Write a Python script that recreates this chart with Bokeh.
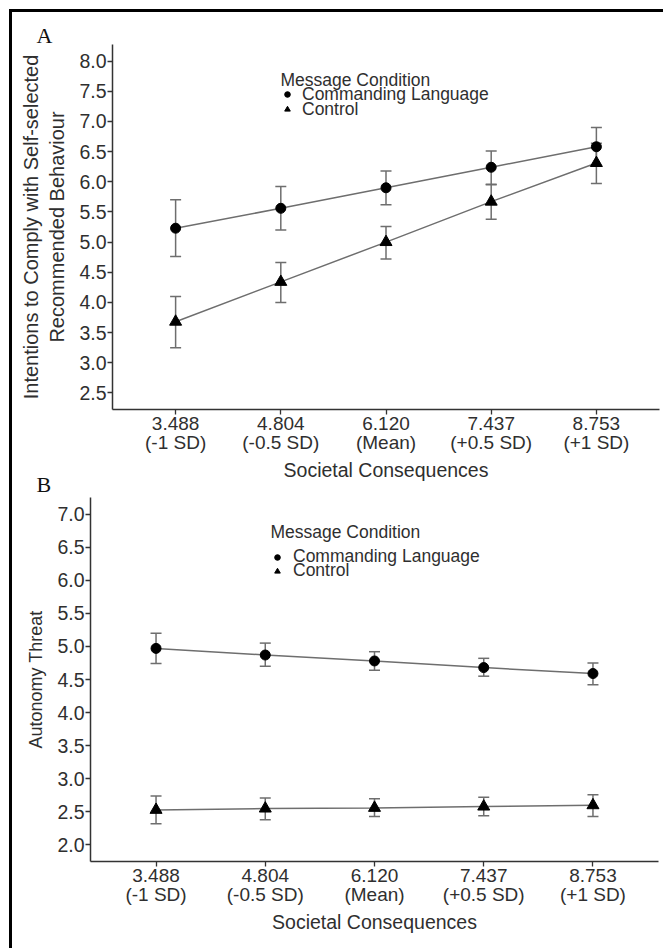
from bokeh.plotting import figure
from bokeh.models import (Range1d, FixedTicker, PrintfTickFormatter, Whisker, TeeHead,
                          ColumnDataSource, Legend, LegendItem, Label, Spacer, Title,
                          LinearAxis)
from bokeh.layouts import column, row
from bokeh.embed import file_html
from bokeh.resources import INLINE

# ---------------- data ----------------
sc_values = [3.488, 4.804, 6.120, 7.437, 8.753]
sd_labels = ["(-1 SD)", "(-0.5 SD)", "(Mean)", "(+0.5 SD)", "(+1 SD)"]
conditions = ["Commanding Language", "Control"]
legend_title = "Message Condition"
x_title = "Societal Consequences"
panel_letters = ["A", "B"]

# Panel A: intentions to comply
intent_cmd = [5.23, 5.56, 5.90, 6.24, 6.58]
intent_cmd_lo = [4.76, 5.20, 5.62, 5.96, 6.26]
intent_cmd_hi = [5.70, 5.92, 6.18, 6.51, 6.90]
intent_ctl = [3.68, 4.34, 5.00, 5.67, 6.31]
intent_ctl_lo = [3.25, 4.00, 4.72, 5.38, 5.97]
intent_ctl_hi = [4.10, 4.66, 5.26, 5.95, 6.64]
intent_ticks = [2.5, 3.0, 3.5, 4.0, 4.5, 5.0, 5.5, 6.0, 6.5, 7.0, 7.5, 8.0]

# Panel B: autonomy threat
threat_cmd = [4.97, 4.87, 4.78, 4.68, 4.59]
threat_cmd_lo = [4.74, 4.70, 4.64, 4.55, 4.42]
threat_cmd_hi = [5.20, 5.05, 4.92, 4.82, 4.75]
threat_ctl = [2.53, 2.55, 2.56, 2.58, 2.60]
threat_ctl_lo = [2.32, 2.38, 2.43, 2.44, 2.43]
threat_ctl_hi = [2.74, 2.71, 2.70, 2.72, 2.76]
threat_ticks = [2.0, 2.5, 3.0, 3.5, 4.0, 4.5, 5.0, 5.5, 6.0, 6.5, 7.0]

FONT = "Liberation Sans"
TXT = "#2f2f2f"
LINE = "#6e6e6e"

x_pos = [float(i + 1) for i in range(len(sc_values))]
value_text = {x: f"{v:.3f}" for x, v in zip(x_pos, sc_values)}
sd_text = {x: s for x, s in zip(x_pos, sd_labels)}


def letter_title(text, offset, standoff, valign):
    return Title(text=text, align="left", offset=offset, standoff=standoff,
                 vertical_align=valign,
                 text_font="Liberation Serif", text_font_size="22px",
                 text_font_style="normal", text_color="#111111")


def style_axis(ax):
    ax.axis_line_color = "#333333"
    ax.axis_line_width = 1.5
    ax.major_tick_line_color = "#333333"
    ax.major_tick_line_width = 1.3
    ax.major_tick_out = 5
    ax.major_tick_in = 0
    ax.minor_tick_line_color = None
    ax.major_label_text_font = FONT
    ax.major_label_text_color = TXT
    ax.axis_label_text_font = FONT
    ax.axis_label_text_color = TXT
    ax.axis_label_text_font_style = "normal"


def make_panel(ylabel, ylabel_size, ticks, series, width, height, borders, leg):
    lo_t, hi_t = ticks[0], ticks[-1]
    pad = (hi_t - lo_t) * 0.05
    p = figure(width=width, height=height,
               x_range=Range1d(0.4, len(sc_values) + 0.6),
               y_range=Range1d(lo_t - pad, hi_t + pad),
               output_backend="svg", toolbar_location=None,
               min_border_left=borders[0], min_border_right=borders[1],
               min_border_top=borders[2], min_border_bottom=borders[3])
    p.grid.visible = False
    p.outline_line_color = None
    p.background_fill_color = "white"
    p.border_fill_color = "white"
    p.title.visible = False

    style_axis(p.xaxis[0])
    style_axis(p.yaxis[0])

    # first row of x tick labels: the moderator values
    p.xaxis.ticker = FixedTicker(ticks=x_pos)
    p.xaxis.major_label_overrides = value_text
    p.xaxis.major_label_text_font_size = "19px"
    p.xaxis.major_label_standoff = 2

    # second row: SD descriptors, plus the axis title
    ax2 = LinearAxis(ticker=FixedTicker(ticks=x_pos), major_label_overrides=sd_text)
    style_axis(ax2)
    ax2.axis_line_color = None
    ax2.major_tick_out = 0
    ax2.major_tick_line_color = None
    ax2.major_label_text_font_size = "19px"
    ax2.major_label_standoff = -1
    ax2.axis_label = x_title
    ax2.axis_label_text_font_size = "19.5px"
    ax2.axis_label_standoff = 3
    p.add_layout(ax2, "below")

    p.yaxis.ticker = FixedTicker(ticks=ticks)
    p.yaxis.formatter = PrintfTickFormatter(format="%.1f")
    p.yaxis.major_label_text_font_size = "19.5px"
    p.yaxis.major_label_standoff = 1
    p.yaxis.axis_label = ylabel
    p.yaxis.axis_label_text_font_size = ylabel_size
    p.yaxis.axis_label_standoff = 8

    markers = ["circle", "triangle"]
    sizes = [10, 12]
    items = []
    for (vals, lo, hi), mk, sz in zip(series, markers, sizes):
        src = ColumnDataSource(dict(x=x_pos, y=vals, lo=lo, hi=hi))
        p.line("x", "y", source=src, line_color=LINE, line_width=1.5)
        w = Whisker(base="x", upper="hi", lower="lo", source=src,
                    line_color=LINE, line_width=1.5, level="underlay",
                    upper_head=TeeHead(size=11, line_color=LINE, line_width=1.5),
                    lower_head=TeeHead(size=11, line_color=LINE, line_width=1.5))
        p.add_layout(w)
        r = p.scatter("x", "y", source=src, marker=mk, size=sz,
                      fill_color="black", line_color="black")
        items.append(r)

    # legend title
    p.add_layout(Label(x=leg["title"][0], y=leg["title"][1], x_units="screen", y_units="screen",
                       text=legend_title, text_font=FONT, text_font_size="17.5px",
                       text_color=TXT, text_baseline="middle"))
    for name, r, loc in zip(conditions, items, leg["items"]):
        lg = Legend(items=[LegendItem(label=name, renderers=[r])], location=loc,
                    padding=0, margin=0, spacing=0, border_line_color=None,
                    background_fill_alpha=0, glyph_width=14, glyph_height=20,
                    label_height=20, label_standoff=leg["standoff"],
                    label_text_font=FONT, label_text_font_size="17.5px",
                    label_text_color=TXT)
        p.add_layout(lg)
    return p


pA = make_panel("Intentions to Comply with Self-selected\nRecommended Behaviour", "20px",
                intent_ticks,
                [(intent_cmd, intent_cmd_lo, intent_cmd_hi), (intent_ctl, intent_ctl_lo, intent_ctl_hi)],
                646, 485, (96, 3, 32, 88),
                dict(title=(168, 330), items=[(168, 304.5), (168, 289.5)], standoff=8))
pB = make_panel("Autonomy Threat", "18px",
                threat_ticks,
                [(threat_cmd, threat_cmd_lo, threat_cmd_hi), (threat_ctl, threat_ctl_lo, threat_ctl_hi)],
                650, 443, (78, 4, 0, 79),
                dict(title=(180, 330), items=[(180, 294), (180, 280)], standoff=9))

# panel letters: "A" above panel A, "B" drawn just beneath panel A's axis (above panel B)
pA.add_layout(letter_title(panel_letters[0], -76, -6, "bottom"), "above")
pA.add_layout(letter_title(panel_letters[1], -76, -24, "top"), "below")

BLACK = {"background-color": "black"}
panels = column(row(Spacer(width=4, height=485), pA), row(pB), spacing=0)
layout = column(
    Spacer(width=663, height=9),
    row(Spacer(width=9, height=3), Spacer(width=654, height=3, styles=BLACK), spacing=0),
    row(Spacer(width=9, height=928), Spacer(width=3, height=936, styles=BLACK), panels, spacing=0),
    spacing=0,
)

open("out.html", "w").write(file_html(layout, INLINE))
